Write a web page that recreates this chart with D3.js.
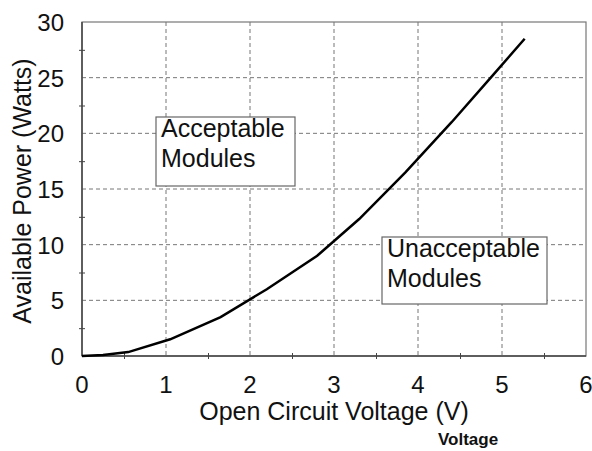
<!DOCTYPE html>
<html>
<head>
<meta charset="utf-8">
<script src="https://cdn.jsdelivr.net/npm/d3@7"></script>
<style>
  body { margin: 0; background: #fff; }
  text { font-family: "Liberation Sans", Arial, sans-serif; fill: #111; }
</style>
</head>
<body>
<div class="chart"></div>
<script>
// Chart data
var voltage = [0, 0.25, 0.55, 1.05, 1.65, 2.2, 2.8, 3.3, 3.85, 4.4, 4.9, 5.27];
var power = [0, 0.1, 0.35, 1.5, 3.5, 6.0, 9.0, 12.3, 16.5, 21.0, 25.3, 28.5];
var xTicks = [0, 1, 2, 3, 4, 5, 6];
var yTicks = [0, 5, 10, 15, 20, 25, 30];
var xMinor = [0.5, 1.5, 2.5, 3.5, 4.5, 5.5];
var yMinor = [2.5, 7.5, 12.5, 17.5, 22.5, 27.5];

var svgWidth = 592;
var svgHeight = 451;

var margin = { top: 22, right: 6, bottom: 95, left: 82 };
var width = svgWidth - margin.left - margin.right;
var height = svgHeight - margin.top - margin.bottom;

var svg = d3.select(".chart")
  .append("svg")
  .attr("width", svgWidth)
  .attr("height", svgHeight);

var chartGroup = svg.append("g")
  .attr("transform", `translate(${margin.left}, ${margin.top})`);

var x = d3.scaleLinear().domain([0, 6]).range([0, width]);
var y = d3.scaleLinear().domain([0, 30]).range([height, 0]);

// Dashed grid
chartGroup.selectAll(".vgrid")
  .data(xTicks.slice(1, -1))
  .enter().append("line")
  .attr("x1", d => x(d)).attr("x2", d => x(d))
  .attr("y1", 0).attr("y2", height)
  .attr("stroke", "#777").attr("stroke-width", 1)
  .attr("stroke-dasharray", "4,3");

chartGroup.selectAll(".hgrid")
  .data(yTicks.slice(1, -1))
  .enter().append("line")
  .attr("x1", 0).attr("x2", width)
  .attr("y1", d => y(d)).attr("y2", d => y(d))
  .attr("stroke", "#777").attr("stroke-width", 1)
  .attr("stroke-dasharray", "4,3");

// Frame
chartGroup.append("rect")
  .attr("width", width).attr("height", height)
  .attr("fill", "none").attr("stroke", "#777").attr("stroke-width", 1.2);

// Axes (minor ticks only, majors are the grid)
var bottomAxis = d3.axisBottom(x).tickValues(xMinor).tickSize(6).tickFormat("");
var leftAxis = d3.axisLeft(y).tickValues(yMinor).tickSize(6).tickFormat("");

chartGroup.append("g")
  .attr("transform", `translate(0, ${height - 3})`)
  .call(bottomAxis)
  .call(g => g.select(".domain").remove())
  .selectAll("line").attr("stroke", "#444");

chartGroup.append("g")
  .attr("transform", "translate(3, 0)")
  .call(leftAxis)
  .call(g => g.select(".domain").remove())
  .selectAll("line").attr("stroke", "#444");

chartGroup.append("line")
  .attr("x1", 0).attr("x2", width).attr("y1", height).attr("y2", height)
  .attr("stroke", "#444").attr("stroke-width", 1.5);
chartGroup.append("line")
  .attr("x1", 0).attr("x2", 0).attr("y1", 0).attr("y2", height)
  .attr("stroke", "#444").attr("stroke-width", 1.5);

// Tick labels
chartGroup.selectAll(".xlab")
  .data(xTicks)
  .enter().append("text")
  .attr("x", d => x(d))
  .attr("y", height + 37)
  .attr("text-anchor", "middle")
  .style("font-size", "24px")
  .text(d => d);

chartGroup.selectAll(".ylab")
  .data(yTicks)
  .enter().append("text")
  .attr("x", -18)
  .attr("y", d => y(d) + 9)
  .attr("text-anchor", "end")
  .style("font-size", "24px")
  .text(d => d);

// Curve
var line = d3.line()
  .x(d => x(d[0]))
  .y(d => y(d[1]));

chartGroup.append("path")
  .datum(d3.zip(voltage, power))
  .attr("d", line)
  .attr("fill", "none")
  .attr("stroke", "#000")
  .attr("stroke-width", 2.5);

// Text boxes
function labelBox(x0, y0, w, h, lines) {
  svg.append("rect")
    .attr("x", x0).attr("y", y0).attr("width", w).attr("height", h)
    .attr("fill", "#fff").attr("stroke", "#666").attr("stroke-width", 1.2);
  lines.forEach(function (t, i) {
    svg.append("text")
      .attr("x", x0 + 5)
      .attr("y", y0 + 20 + i * 30)
      .style("font-size", "25px")
      .text(t);
  });
}
labelBox(156, 117, 139, 69, ["Acceptable", "Modules"]);
labelBox(382, 237, 165, 67, ["Unacceptable", "Modules"]);

// Axis titles
svg.append("text")
  .attr("x", margin.left + width / 2)
  .attr("y", 420)
  .attr("text-anchor", "middle")
  .style("font-size", "25px")
  .text("Open Circuit Voltage (V)");

svg.append("text")
  .attr("transform", `translate(31, ${margin.top + height / 2 + 2}) rotate(-90)`)
  .attr("text-anchor", "middle")
  .style("font-size", "25px")
  .text("Available Power (Watts)");

svg.append("text")
  .attr("x", 438)
  .attr("y", 445)
  .style("font-size", "17px")
  .style("font-weight", "bold")
  .text("Voltage");
</script>
</body>
</html>
